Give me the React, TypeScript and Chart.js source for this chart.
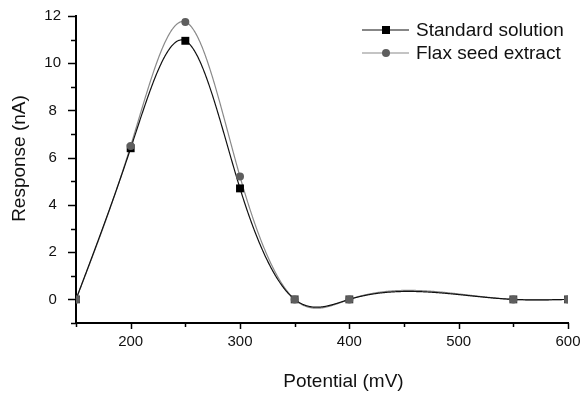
import React, { useEffect, useRef } from "react";
import { Chart, registerables } from "chart.js";

Chart.register(...registerables);

// ---- data ----
const potentials = [150, 200, 250, 300, 350, 400, 550, 600];
const standardSolution = [0, 6.4, 10.95, 4.7, 0, 0, 0, 0];
const flaxSeedExtract = [0, 6.5, 11.75, 5.2, 0, 0, 0, 0];
const seriesLabels = ["Standard solution", "Flax seed extract"];
const xAxisTitle = "Potential (mV)";
const yAxisTitle = "Response (nA)";

const FONT = "'Liberation Sans', Arial, Helvetica, sans-serif";

// natural cubic spline through the data points (drawing helper)
function splineFn(xs: number[], ys: number[]) {
  const n = xs.length;
  const M = new Array(n).fill(0);
  if (n > 2) {
    const a: number[] = [], b: number[] = [], c: number[] = [], d: number[] = [];
    for (let i = 1; i < n - 1; i++) {
      const h0 = xs[i] - xs[i - 1];
      const h1 = xs[i + 1] - xs[i];
      a.push(h0);
      b.push(2 * (h0 + h1));
      c.push(h1);
      d.push(6 * ((ys[i + 1] - ys[i]) / h1 - (ys[i] - ys[i - 1]) / h0));
    }
    const m = b.length;
    for (let i = 1; i < m; i++) {
      const w = a[i] / b[i - 1];
      b[i] -= w * c[i - 1];
      d[i] -= w * d[i - 1];
    }
    const sol = new Array(m).fill(0);
    sol[m - 1] = d[m - 1] / b[m - 1];
    for (let i = m - 2; i >= 0; i--) sol[i] = (d[i] - c[i] * sol[i + 1]) / b[i];
    for (let i = 0; i < m; i++) M[i + 1] = sol[i];
  }
  return (x: number) => {
    let k = 0;
    while (k < n - 2 && x > xs[k + 1]) k++;
    const x0 = xs[k], x1 = xs[k + 1];
    const h = x1 - x0;
    const A = x1 - x, B = x - x0;
    return (
      (M[k] * A * A * A) / (6 * h) +
      (M[k + 1] * B * B * B) / (6 * h) +
      (ys[k] / h - (M[k] * h) / 6) * A +
      (ys[k + 1] / h - (M[k + 1] * h) / 6) * B
    );
  };
}

const splinePlugin = {
  id: "splineLines",
  beforeDatasetsDraw(chart: any) {
    const { ctx, scales } = chart;
    const xs = scales.x, ys = scales.y;
    chart.data.datasets.forEach((ds: any) => {
      const px = ds.data.map((p: any) => p.x);
      const py = ds.data.map((p: any) => p.y);
      const f = splineFn(px, py);
      const p0 = xs.getPixelForValue(px[0]);
      const p1 = xs.getPixelForValue(px[px.length - 1]);
      ctx.save();
      ctx.beginPath();
      for (let p = p0; p <= p1 + 0.01; p += 0.5) {
        const xv = xs.getValueForPixel(p);
        const yp = ys.getPixelForValue(f(Math.min(Math.max(xv, px[0]), px[px.length - 1])));
        if (p === p0) ctx.moveTo(p, yp);
        else ctx.lineTo(p, yp);
      }
      ctx.strokeStyle = ds.lineColor;
      ctx.lineWidth = ds.lineWidth;
      ctx.stroke();
      ctx.restore();
    });
  },
};

const decorPlugin = {
  id: "decor",
  afterDraw(chart: any) {
    const { ctx, scales, chartArea } = chart;
    const xs = scales.x, ys = scales.y;
    ctx.save();
    ctx.strokeStyle = "#000";
    ctx.lineWidth = 1.5;
    // y ticks
    for (let v = -1; v <= 12; v++) {
      const y = Math.round(ys.getPixelForValue(v)) + 0.5;
      const len = v % 2 === 0 ? 8 : 5;
      ctx.beginPath();
      ctx.moveTo(chartArea.left, y);
      ctx.lineTo(chartArea.left - len, y);
      ctx.stroke();
    }
    // x ticks
    for (let v = 150; v <= 600; v += 50) {
      const x = Math.round(xs.getPixelForValue(v)) + 0.5;
      const len = v % 100 === 0 ? 6 : 4;
      ctx.beginPath();
      ctx.moveTo(x, chartArea.bottom);
      ctx.lineTo(x, chartArea.bottom + len);
      ctx.stroke();
    }
    // axis titles
    ctx.fillStyle = "#111";
    ctx.font = `19px ${FONT}`;
    ctx.textAlign = "center";
    ctx.textBaseline = "middle";
    ctx.fillText(xAxisTitle, 343.5, 382);
    ctx.save();
    ctx.translate(19.5, 158.5);
    ctx.rotate(-Math.PI / 2);
    ctx.fillText(yAxisTitle, 0, 0);
    ctx.restore();

    // legend
    const legendOrder = [1, 0];
    legendOrder.forEach((dsIndex, i) => {
      const ds = chart.data.datasets[dsIndex];
      const y = 30 + 23 * i;
      ctx.beginPath();
      ctx.moveTo(362, y);
      ctx.lineTo(409, y);
      ctx.strokeStyle = ds.lineColor;
      ctx.lineWidth = 1.2;
      ctx.stroke();
      ctx.fillStyle = ds.legendMarker;
      if (ds.pointStyle === "rect") {
        ctx.fillRect(386 - 4, y - 4, 8, 8);
      } else {
        ctx.beginPath();
        ctx.arc(386, y, 4, 0, Math.PI * 2);
        ctx.fill();
      }
      ctx.fillStyle = "#111";
      ctx.textAlign = "left";
      ctx.textBaseline = "middle";
      ctx.font = `19px ${FONT}`;
      ctx.fillText(ds.label, 416, y + 1);
    });
    ctx.restore();
  },
};

function zeroPadding(s: any) {
  s.paddingTop = 0;
  s.paddingBottom = 0;
  s.paddingLeft = 0;
  s.paddingRight = 0;
}

export default function App() {
  const canvasRef = useRef<HTMLCanvasElement | null>(null);

  useEffect(() => {
    document.body.style.margin = "0";
    const canvas = canvasRef.current;
    if (!canvas) return;
    const chart = new Chart(canvas, {
      type: "scatter",
      data: {
        datasets: [
          {
            label: seriesLabels[1],
            data: potentials.map((x, i) => ({ x, y: flaxSeedExtract[i] })),
            showLine: false,
            pointStyle: "circle",
            pointRadius: 4,
            pointBorderWidth: 0,
            pointBackgroundColor: "#5e5e5e",
            lineColor: "#8a8a8a",
            lineWidth: 1.2,
            legendMarker: "#5e5e5e",
          } as any,
          {
            label: seriesLabels[0],
            data: potentials.map((x, i) => ({ x, y: standardSolution[i] })),
            showLine: false,
            pointStyle: "rect",
            pointRadius: 5.6,
            pointBorderWidth: 0,
            pointBackgroundColor: (c: any) => (c.parsed && c.parsed.y === 0 ? "#3c3c3c" : "#000"),
            lineColor: "#111",
            lineWidth: 1.2,
            legendMarker: "#000",
          } as any,
        ],
      },
      options: {
        responsive: false,
        animation: false,
        layout: { padding: { left: 0, top: 16, right: 15, bottom: 0 } },
        plugins: {
          legend: { display: false },
          tooltip: { enabled: false },
        },
        scales: {
          x: {
            type: "linear",
            min: 150,
            max: 600,
            afterFit: (s: any) => {
              s.height = 70;
              zeroPadding(s);
            },
            ticks: {
              stepSize: 50,
              autoSkip: false,
              maxRotation: 0,
              padding: 10,
              color: "#111",
              font: { family: FONT, size: 15 },
              callback: (v: any) => (Number(v) % 100 === 0 ? String(v) : ""),
            },
            grid: { display: true, drawOnChartArea: false, drawTicks: false },
            border: { display: true, color: "#000", width: 2 },
          },
          y: {
            type: "linear",
            min: -1,
            max: 12,
            afterFit: (s: any) => {
              s.width = 76;
              zeroPadding(s);
            },
            ticks: {
              stepSize: 1,
              autoSkip: false,
              padding: 15,
              crossAlign: "center",
              color: "#111",
              font: { family: FONT, size: 15 },
              callback: (v: any) => (Number(v) >= 0 && Number(v) % 2 === 0 ? String(v) : ""),
            },
            grid: { display: true, drawOnChartArea: false, drawTicks: false },
            border: { display: true, color: "#000", width: 2 },
          },
        },
      } as any,
      plugins: [splinePlugin, decorPlugin],
    });
    return () => chart.destroy();
  }, []);

  return <canvas ref={canvasRef} width={583} height={393} style={{ display: "block" }} />;
}
